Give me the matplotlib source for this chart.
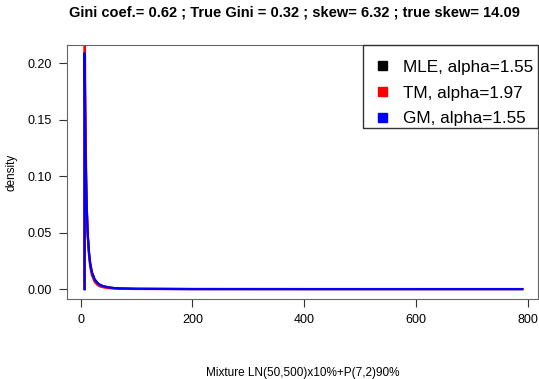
import matplotlib.pyplot as plt

# valeurs
x = [7, 7, 7.5, 8, 8.5, 9, 10, 11, 12, 13, 15, 17, 20, 25, 30, 35, 40, 50, 60, 70, 80, 100, 200, 400, 600, 790]
mle = [0, 0.209, 0.188, 0.157, 0.135, 0.117, 0.089, 0.070, 0.056, 0.046, 0.032, 0.023, 0.015, 0.0086,
       0.0054, 0.0036, 0.0026, 0.0015, 0.0009, 0.0006, 0.00045, 0.00025, 0.00004, 0.00001, 0.000003, 0.000001]
tm = [0, 0.28, 0.231, 0.189, 0.158, 0.133, 0.0975, 0.073, 0.0568, 0.045, 0.0293, 0.020, 0.0125, 0.0064,
      0.0037, 0.0023, 0.0016, 0.0008, 0.0005, 0.0003, 0.0002, 0.0001, 0.00001, 0, 0, 0]
gm = mle
labels = ["MLE, alpha=1.55", "TM, alpha=1.97", "GM, alpha=1.55"]
colors = ["black", "red", "blue"]

plt.rcParams['font.family'] = ['Liberation Sans', 'DejaVu Sans']
fig = plt.figure(figsize=(5.39, 3.79), dpi=100)
ax = fig.add_axes([0.1237, 0.211, 0.8743, 0.67])

ax.plot(x, mle, color=colors[0], lw=1.6)
ax.plot(x, tm, color=colors[1], lw=1.6)
ax.plot(x, gm, color=colors[2], lw=1.6)

ax.set_xlim(-25, 818)
ax.set_ylim(-0.0088, 0.216)
ax.set_xticks([0, 200, 400, 600, 800])
ax.set_yticks([0, 0.05, 0.10, 0.15, 0.20])
ax.set_yticklabels(["0.00", "0.05", "0.10", "0.15", "0.20"])
ax.tick_params(labelsize=9, length=6, color="#333333", pad=5)
for s in ax.spines.values():
    s.set_color("#666666")

ax.set_xlabel("Mixture LN(50,500)x10%+P(7,2)90%", fontsize=8.5)
ax.set_ylabel("density", fontsize=8.5)
ax.xaxis.set_label_coords(0.5, -0.268)
ax.yaxis.set_label_coords(-0.105, 0.5)
fig.suptitle("Gini coef.= 0.62 ; True Gini = 0.32 ; skew= 6.32 ; true skew= 14.09",
             x=0.546, y=0.985, fontsize=10.5, fontweight="bold")

# légende façon R : cadre dessiné à part
handles = [plt.Rectangle((0, 0), 1, 1, color=c) for c in colors]
leg = ax.legend(handles, labels, loc="upper right", bbox_to_anchor=(1.016, 0.992), fontsize=12.3,
                frameon=False, handlelength=0.5, handleheight=0.5, handletextpad=0.94,
                borderpad=0.73, labelspacing=0.64, borderaxespad=0)
ax.add_patch(plt.Rectangle((0.629, 0.673), 0.371, 0.327, transform=ax.transAxes, fill=False,
                           edgecolor="#333333", lw=1.0, clip_on=False, zorder=5))

fig.savefig("out.png", dpi=100)
